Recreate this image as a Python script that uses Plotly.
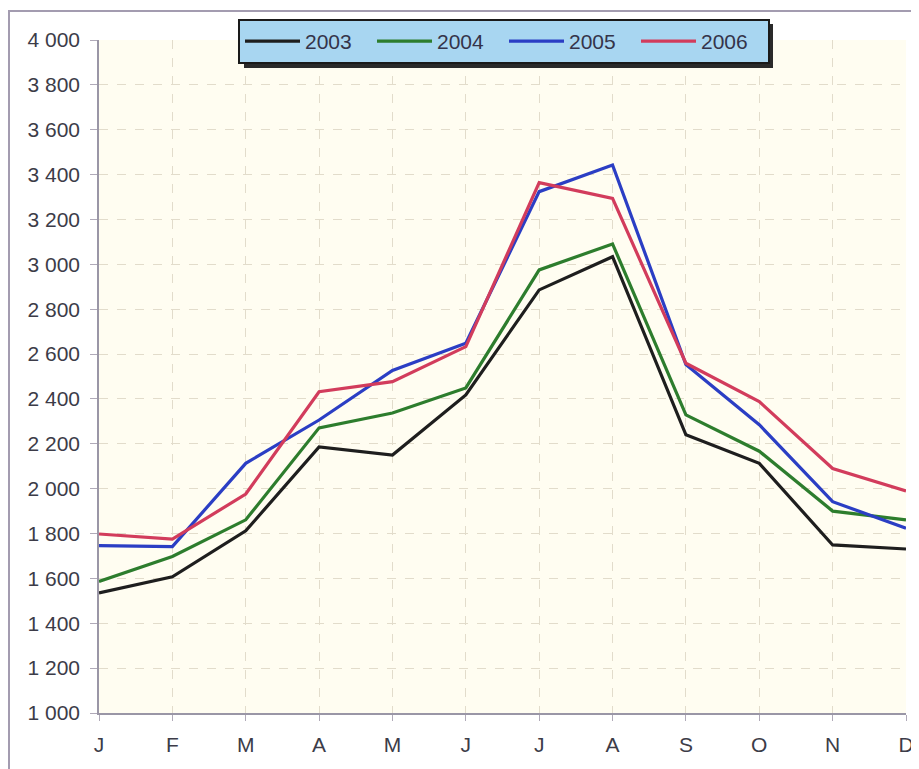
import plotly.graph_objects as go

months = ["J", "F", "M", "A", "M", "J", "J", "A", "S", "O", "N", "D"]
series_names = ["2003", "2004", "2005", "2006"]
v2003 = [1535, 1607, 1812, 2186, 2150, 2418, 2886, 3034, 2240, 2113, 1749, 1731]
v2004 = [1586, 1698, 1861, 2271, 2337, 2449, 2975, 3091, 2329, 2167, 1900, 1861]
v2005 = [1746, 1742, 2113, 2306, 2527, 2648, 3324, 3443, 2553, 2285, 1942, 1824]
v2006 = [1798, 1775, 1976, 2432, 2477, 2633, 3364, 3294, 2559, 2388, 2090, 1990]
colors = ["#1e1e1e", "#2d7d2d", "#2b3ec4", "#d23c5c"]
y_ticks = list(range(1000, 4001, 200))

# page body has an 8px margin, so the figure is laid out in page coords minus 8
OFF = 8
W, H = 919 - OFF, 769 - OFF
L, R, T, B = 99 - OFF, 13, 40 - OFF, 56
pw, ph = W - L - R, H - T - B

def px(xs):
    return (xs - OFF - L) / pw

def py(ys):
    return (H - B - (ys - OFF)) / ph

fig = go.Figure()
xs = list(range(len(months)))
for name, vals, c in zip(series_names, [v2003, v2004, v2005, v2006], colors):
    fig.add_trace(go.Scatter(x=xs, y=vals, mode="lines", name=name,
                             line=dict(color=c, width=3.2)))

tick_font = dict(family="Liberation Sans, Arial, sans-serif", size=21, color="#3c3c48")
grid_col = "#e2dccb"

fig.update_layout(
    width=W, height=H,
    margin=dict(l=L, r=R, t=T, b=B, autoexpand=False),
    paper_bgcolor="white",
    plot_bgcolor="#fffdf1",
    separators=", ",
    showlegend=True,
    legend=dict(
        orientation="h",
        x=px(238), xanchor="left",
        y=py(19), yanchor="top",
        bgcolor="#a8d6f1",
        bordercolor="#1a1a1a", borderwidth=2,
        font=dict(family="Liberation Sans, Arial, sans-serif", size=21, color="#34344a"),
        itemwidth=55,
        entrywidth=62, entrywidthmode="pixels",
    ),
    xaxis=dict(
        range=[0, 11], tickvals=xs, ticktext=months,
        showgrid=True, gridcolor=grid_col, griddash="dash", gridwidth=1,
        showline=True, linecolor="#9a96a6", linewidth=1.5,
        ticks="outside", ticklen=6, tickcolor="#b0aab8",
        tickfont=tick_font, zeroline=False, ticklabelstandoff=6,
    ),
    yaxis=dict(
        range=[1000, 4000], tickvals=y_ticks, tickformat=",d",
        showgrid=True, gridcolor=grid_col, griddash="dash", gridwidth=1,
        showline=True, linecolor="#9a96a6", linewidth=1.5,
        ticks="outside", ticklen=7, tickcolor="#b0aab8",
        tickfont=tick_font, zeroline=False, ticklabelstandoff=6,
    ),
    shapes=[
        dict(type="rect", xref="paper", yref="paper",
             x0=px(244), x1=px(773), y0=py(68), y1=py(24),
             fillcolor="#2a2a2a", line=dict(width=0), layer="above"),
        dict(type="rect", xref="paper", yref="paper",
             x0=px(9), x1=px(940), y0=py(790), y1=py(11),
             fillcolor="rgba(0,0,0,0)", line=dict(color="#a39cb0", width=2), layer="below"),
    ],
)

fig.write_html("out.html")
